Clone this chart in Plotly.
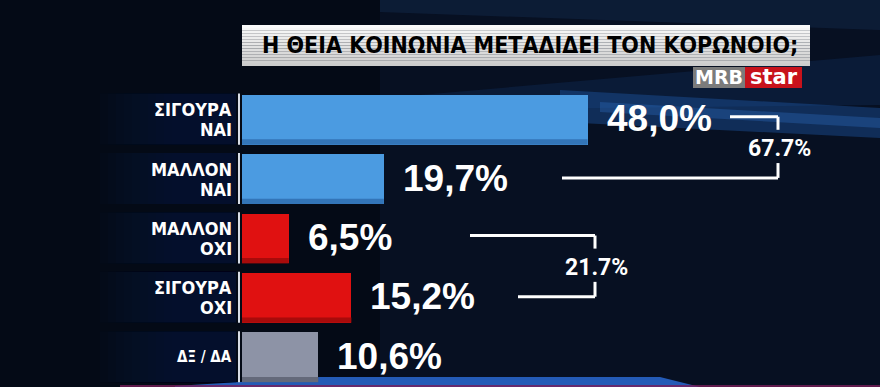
import plotly.graph_objects as go

# ---------------- data ----------------
cat_line1 = ["ΣΙΓΟΥΡΑ", "ΜΑΛΛΟΝ", "ΜΑΛΛΟΝ", "ΣΙΓΟΥΡΑ", "ΔΞ / ΔΑ"]
cat_line2 = ["ΝΑΙ", "ΝΑΙ", "ΟΧΙ", "ΟΧΙ", ""]
values = [48.0, 19.7, 6.5, 15.2, 10.6]
value_labels = ["48,0%", "19,7%", "6,5%", "15,2%", "10,6%"]
bar_colors = ["#4b9be1", "#4b9be1", "#e01111", "#e01111", "#8d93a6"]
bar_dark = ["#2f6fb0", "#2f6fb0", "#9e0a0a", "#9e0a0a", "#5d6272"]
group_totals = ["67.7%", "21.7%"]
group_rows = [(0, 1), (2, 3)]
title_text = "Η ΘΕΙΑ ΚΟΙΝΩΝΙΑ ΜΕΤΑΔΙΔΕΙ ΤΟΝ ΚΟΡΩΝΟΙΟ;"

# ---------------- layout geometry ----------------
W, H = 880, 387
ML, MT = 242, 90
PX_PER_UNIT = 7.2
XMAX = (W - ML) / PX_PER_UNIT
rows = list(range(len(values)))


def px2x(px):
    return (px - ML) / PX_PER_UNIT


def pxp(px):  # pixel -> paper x
    return (px - ML) / (W - ML)


def pyp(py):  # pixel -> paper y
    return 1 - (py - MT) / (H - MT)


fig = go.Figure()
fig.add_trace(go.Bar(
    x=values, y=rows, orientation="h", width=0.84,
    marker=dict(color=bar_colors, line=dict(width=0)),
    hoverinfo="skip",
))

shapes = []


def poly(pts, color):
    path = "M " + " L ".join(f"{pxp(x):.4f},{pyp(y):.4f}" for x, y in pts) + " Z"
    shapes.append(dict(type="path", path=path, xref="paper", yref="paper",
                       fillcolor=color, line=dict(width=0), layer="below"))


# background streaks
poly([(380, 0), (880, 0), (880, 30), (380, 12)], "rgba(25,55,100,0.30)")
poly([(420, 95), (880, 55), (880, 105), (420, 110)], "rgba(20,60,120,0.25)")
poly([(560, 90), (880, 108), (880, 138), (560, 122)], "rgba(30,90,170,0.40)")
poly([(600, 102), (880, 118), (880, 128), (600, 112)], "rgba(50,120,210,0.30)")
poly([(0, 0), (380, 0), (380, 387), (0, 387)], "rgba(0,0,0,0.35)")
poly([(175, 386), (320, 377), (660, 377), (700, 387), (175, 387)], "rgba(40,100,200,0.9)")
poly([(120, 385), (880, 385), (880, 387), (120, 387)], "rgba(120,30,90,0.8)")

# label panels behind category names (soft fade to the left)
for i in rows:
    for k in range(10):
        x0 = 100 + k * 8
        shapes.append(dict(type="rect", xref="paper", yref="y",
                           x0=pxp(x0), x1=pxp(236), y0=i - 0.44, y1=i + 0.42,
                           fillcolor="#0f2147", opacity=0.07, line=dict(width=0), layer="below"))
    shapes.append(dict(type="line", xref="paper", yref="y",
                       x0=pxp(239), x1=pxp(239), y0=i - 0.44, y1=i + 0.42,
                       line=dict(color="#d8dde6", width=2)))

# 3D lip at bottom of bars
for i, (v, c) in enumerate(zip(values, bar_dark)):
    shapes.append(dict(type="rect", xref="x", yref="y",
                       x0=0, x1=v, y0=i + 0.33, y1=i + 0.42,
                       fillcolor=c, opacity=0.85, line=dict(width=0)))

# title box with vertical gradient
tb_x0, tb_x1, tb_y0, tb_y1 = 242, 810, 25, 66
n = 14
for k in range(n):
    g = int(250 - 45 * k / (n - 1))
    ya = tb_y0 + (tb_y1 - tb_y0) * k / n
    yb = tb_y0 + (tb_y1 - tb_y0) * (k + 1) / n
    shapes.append(dict(type="rect", xref="paper", yref="paper",
                       x0=pxp(tb_x0), x1=pxp(tb_x1), y0=pyp(yb), y1=pyp(ya),
                       fillcolor=f"rgb({g},{g},{g})", line=dict(width=0)))

# logo boxes
shapes.append(dict(type="rect", xref="paper", yref="paper",
                   x0=pxp(693), x1=pxp(745), y0=pyp(88), y1=pyp(67),
                   fillcolor="#7b7b7b", line=dict(width=0)))
shapes.append(dict(type="rect", xref="paper", yref="paper",
                   x0=pxp(745), x1=pxp(802), y0=pyp(88), y1=pyp(67),
                   fillcolor="#c8121b", line=dict(width=0)))

# bracket lines (pixel x positions, row-based y)
LW = dict(color="white", width=3)
brackets = [
    # (top start px, bottom start px, right px)
    (730, 562, 778),
    (470, 518, 595),
]
for (r0, r1), (tx, bx, rx) in zip(group_rows, brackets):
    yt, yb = r0 - 0.05, r1 - 0.02
    for seg in [
        (px2x(tx), yt, px2x(rx), yt),
        (px2x(rx), yt, px2x(rx), yt + 0.22),
        (px2x(bx), yb, px2x(rx), yb),
        (px2x(rx), yb, px2x(rx), yb - 0.25),
    ]:
        shapes.append(dict(type="line", xref="x", yref="y",
                           x0=seg[0], y0=seg[1], x1=seg[2], y1=seg[3], line=LW))

annotations = []
# value labels
for i, (v, t) in enumerate(zip(values, value_labels)):
    annotations.append(dict(x=v, y=i, xref="x", yref="y", text=t, showarrow=False,
                            xanchor="left", yanchor="middle", xshift=17, yshift=1,
                            font=dict(family="Liberation Sans, Arial", size=37,
                                      color="white", weight="bold")))

# category labels
for i, (a, b) in enumerate(zip(cat_line1, cat_line2)):
    if b:
        for txt, sh in [(a, 10), (b, -10)]:
            annotations.append(dict(x=pxp(234), y=i, xref="paper", yref="y", text=txt,
                                    showarrow=False, xanchor="right", yanchor="middle",
                                    yshift=sh,
                                    font=dict(family="DejaVu Sans Condensed, Liberation Sans", size=18,
                                              color="white", weight="bold")))
    else:
        annotations.append(dict(x=pxp(234), y=i, xref="paper", yref="y", text=a,
                                showarrow=False, xanchor="right", yanchor="middle",
                                font=dict(family="DejaVu Sans Condensed, Liberation Sans", size=15,
                                          color="white", weight="bold")))

# bracket totals
for (r0, r1), (tx, bx, rx), t in zip(group_rows, brackets, group_totals):
    annotations.append(dict(x=px2x(rx), y=(r0 + r1) / 2 - 0.02, xref="x", yref="y", text=t,
                            showarrow=False, xanchor="center", yanchor="middle", xshift=1,
                            font=dict(family="Roboto", size=23, color="white", weight="bold")))

# title
annotations.append(dict(x=pxp((tb_x0 + tb_x1) / 2 + 4), y=pyp((tb_y0 + tb_y1) / 2), xref="paper",
                        yref="paper", text=title_text, showarrow=False,
                        xanchor="center", yanchor="middle",
                        font=dict(family="DejaVu Sans Condensed, DejaVu Sans", size=23,
                                  color="black", weight="bold")))
# logo text
annotations.append(dict(x=pxp(719), y=pyp(77.5), xref="paper", yref="paper", text="MRB",
                        showarrow=False, xanchor="center", yanchor="middle",
                        font=dict(family="DejaVu Sans", size=19, color="white", weight="bold")))
annotations.append(dict(x=pxp(773.5), y=pyp(76.5), xref="paper", yref="paper", text="star",
                        showarrow=False, xanchor="center", yanchor="middle",
                        font=dict(family="DejaVu Sans", size=21, color="white", weight="bold")))

fig.update_layout(
    width=W, height=H,
    margin=dict(l=ML, r=0, t=MT, b=0, pad=0),
    paper_bgcolor="#071022",
    plot_bgcolor="rgba(0,0,0,0)",
    showlegend=False,
    bargap=0,
    xaxis=dict(range=[0, XMAX], visible=False, fixedrange=True),
    yaxis=dict(range=[4.5, -0.5], visible=False, fixedrange=True),
    shapes=shapes,
    annotations=annotations,
)

fig.write_html("out.html", config={"displayModeBar": False})
